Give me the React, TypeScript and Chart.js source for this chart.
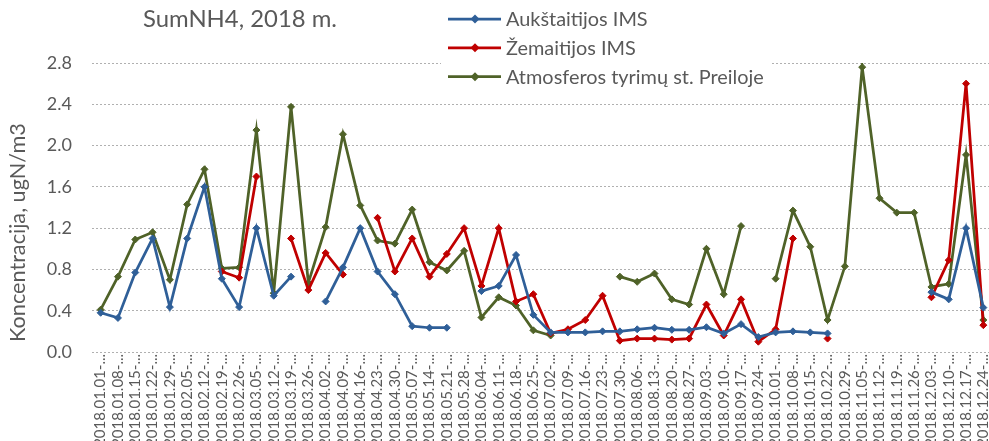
import React, { useEffect, useRef } from "react";
import { Chart, registerables } from "chart.js";

Chart.register(...registerables);

const TITLE = "SumNH4, 2018 m.";
const Y_TITLE = "Koncentracija, ugN/m3";

const weeks = [
  "2018.01.01", "2018.01.08", "2018.01.15", "2018.01.22", "2018.01.29",
  "2018.02.05", "2018.02.12", "2018.02.19", "2018.02.26",
  "2018.03.05", "2018.03.12", "2018.03.19", "2018.03.26",
  "2018.04.02", "2018.04.09", "2018.04.16", "2018.04.23", "2018.04.30",
  "2018.05.07", "2018.05.14", "2018.05.21", "2018.05.28",
  "2018.06.04", "2018.06.11", "2018.06.18", "2018.06.25",
  "2018.07.02", "2018.07.09", "2018.07.16", "2018.07.23", "2018.07.30",
  "2018.08.06", "2018.08.13", "2018.08.20", "2018.08.27",
  "2018.09.03", "2018.09.10", "2018.09.17", "2018.09.24",
  "2018.10.01", "2018.10.08", "2018.10.15", "2018.10.22", "2018.10.29",
  "2018.11.05", "2018.11.12", "2018.11.19", "2018.11.26",
  "2018.12.03", "2018.12.10", "2018.12.17", "2018.12.24",
];
const tickLabels = weeks.map((w) => w + "-...");

const seriesNames = ["Aukštaitijos IMS", "Žemaitijos IMS", "Atmosferos tyrimų st. Preiloje"];
const seriesColors = ["#2F5F98", "#C00000", "#4F6228"];

const aukstaitija = [
  0.38, 0.33, 0.77, 1.10, 0.435, 1.10, 1.60, 0.71, 0.435, 1.20,
  0.545, 0.73, null, 0.49, 0.82, 1.20, 0.78, 0.56, 0.25, 0.235,
  0.235, null, 0.59, 0.64, 0.94, 0.36, 0.19, 0.19, 0.19, 0.20,
  0.20, 0.22, 0.235, 0.215, 0.215, 0.24, 0.18, 0.27, 0.145, 0.19,
  0.20, 0.19, 0.18, null, null, null, null, null, 0.58, 0.51,
  1.20, 0.43,
];

const zemaitija = [
  null, null, null, null, null, null, null, 0.78, 0.72, 1.70,
  null, 1.10, 0.60, 0.96, 0.75, null, 1.30, 0.78, 1.10, 0.73,
  0.95, 1.20, 0.64, 1.20, 0.49, 0.56, 0.18, 0.22, 0.31, 0.545,
  0.11, 0.13, 0.13, 0.12, 0.13, 0.46, 0.16, 0.51, 0.10, 0.22,
  1.10, null, 0.13, null, null, null, null, null, 0.53, 0.89,
  2.60, 0.26,
];

const preila = [
  0.41, 0.73, 1.09, 1.16, 0.70, 1.43, 1.77, 0.81, 0.82, 2.15,
  0.57, 2.375, 0.67, 1.21, 2.11, 1.42, 1.08, 1.05, 1.38, 0.87,
  0.79, 0.98, 0.335, 0.53, 0.45, 0.21, 0.16, null, null, null,
  0.73, 0.68, 0.76, 0.51, 0.46, 1.00, 0.56, 1.22, null, 0.71,
  1.37, 1.02, 0.31, 0.83, 2.76, 1.49, 1.35, 1.35, 0.63, 0.66,
  1.91, 0.31,
];

const Y_MIN = 0;
const Y_MAX = 2.8;
const Y_STEP = 0.4;

const FONT = "Lato, 'Open Sans', sans-serif";
const TEXT_COLOR = "#595959";

function fitSize(ctx: CanvasRenderingContext2D, text: string, target: number): number {
  ctx.font = `20px ${FONT}`;
  const w = ctx.measureText(text).width;
  return (20 * target) / w;
}

const decorPlugin = {
  id: "decor",
  afterDraw(chart: any) {
    const ctx: CanvasRenderingContext2D = chart.ctx;
    ctx.save();
    // legend background
    ctx.fillStyle = "#ffffff";
    ctx.fillRect(441, 0, 329, 96);

    // title
    const ts = fitSize(ctx, TITLE, 194);
    ctx.font = `${ts}px ${FONT}`;
    ctx.fillStyle = TEXT_COLOR;
    ctx.textAlign = "left";
    ctx.textBaseline = "alphabetic";
    ctx.fillText(TITLE, 143, 27);

    // legend
    const ls = fitSize(ctx, seriesNames[2], 258);
    const rows = [19, 47.8, 76.7];
    seriesNames.forEach((name, i) => {
      const y = rows[i];
      ctx.strokeStyle = seriesColors[i];
      ctx.lineWidth = 2.75;
      ctx.beginPath();
      ctx.moveTo(448, y);
      ctx.lineTo(501, y);
      ctx.stroke();
      ctx.fillStyle = seriesColors[i];
      ctx.beginPath();
      ctx.moveTo(475, y - 4.5);
      ctx.lineTo(479.5, y);
      ctx.lineTo(475, y + 4.5);
      ctx.lineTo(470.5, y);
      ctx.closePath();
      ctx.fill();
      ctx.fillStyle = TEXT_COLOR;
      ctx.font = `${ls}px ${FONT}`;
      ctx.fillText(name, 506, y + 7);
    });

    // y axis title
    const ys = fitSize(ctx, Y_TITLE, 219);
    ctx.translate(25, 342);
    ctx.rotate(-Math.PI / 2);
    ctx.font = `${ys}px ${FONT}`;
    ctx.fillStyle = TEXT_COLOR;
    ctx.textAlign = "left";
    ctx.fillText(Y_TITLE, 0, 0);
    ctx.restore();
  },
};

export default function App() {
  const canvasRef = useRef<HTMLCanvasElement | null>(null);

  useEffect(() => {
    if (!canvasRef.current) return;
    const ds = [aukstaitija, zemaitija, preila].map((data, i) => ({
      label: seriesNames[i],
      data,
      borderColor: seriesColors[i],
      backgroundColor: seriesColors[i],
      borderWidth: 2.75,
      pointStyle: "rectRot" as const,
      pointRadius: 3.5,
      pointBorderWidth: 1,
      pointBackgroundColor: seriesColors[i],
      pointBorderColor: seriesColors[i],
      spanGaps: false,
      tension: 0,
    }));
    const chart = new Chart(canvasRef.current, {
      type: "line",
      data: { labels: tickLabels, datasets: ds },
      options: {
        responsive: false,
        animation: false,
        devicePixelRatio: 1,
        layout: { padding: { top: 63, left: 0, right: 0, bottom: 0 } },
        plugins: {
          legend: { display: false },
          title: { display: false },
          tooltip: { enabled: false },
        },
        scales: {
          x: {
            type: "category",
            offset: true,
            grid: { display: false, drawTicks: false },
            border: { display: false },
            ticks: {
              autoSkip: false,
              minRotation: 90,
              maxRotation: 90,
              padding: 2,
              color: TEXT_COLOR,
              font: { family: FONT, size: 15 },
            },
            afterFit: (s: any) => {
              s.height = 89;
              s.paddingLeft = 0;
              s.paddingRight = 0;
            },
          },
          y: {
            min: Y_MIN,
            max: Y_MAX,
            grid: { color: "#b0b0b0", lineWidth: 1, drawTicks: false },
            border: { display: false, dash: [2, 2] },
            ticks: {
              stepSize: Y_STEP,
              padding: 20,
              color: TEXT_COLOR,
              font: { family: FONT, size: 18 },
              callback: (v: any) => Number(v).toFixed(1),
            },
            afterFit: (s: any) => {
              s.width = 92;
            },
          },
        },
      },
      plugins: [decorPlugin],
    });
    return () => chart.destroy();
  }, []);

  return (
    <div
      style={{
        position: "fixed",
        left: 0,
        top: 0,
        width: 989,
        height: 441,
        overflow: "hidden",
        background: "#ffffff",
      }}
    >
      <canvas ref={canvasRef} width={997} height={441} style={{ display: "block" }} />
    </div>
  );
}
